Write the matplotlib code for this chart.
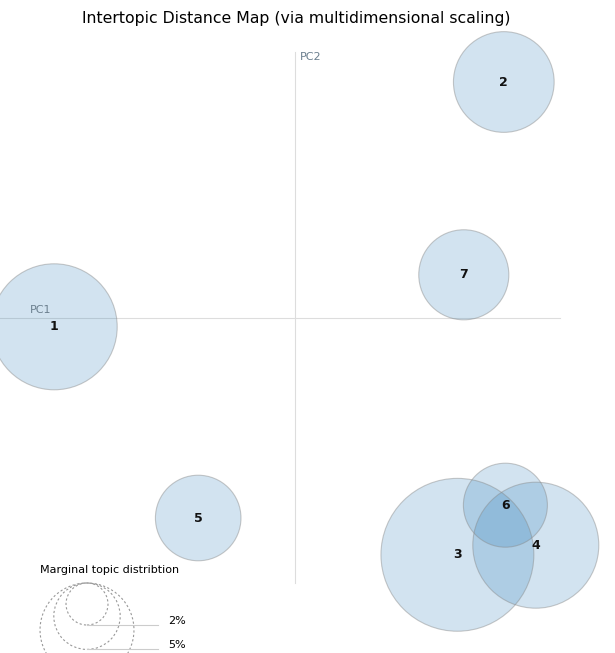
import matplotlib.pyplot as plt
from matplotlib.patches import Circle
import numpy as np

# topic positions on the two principal components and marginal size (%)
topics = ["1", "2", "3", "4", "5", "6", "7"]
pc1 = [-0.301, 0.261, 0.203, 0.301, -0.121, 0.263, 0.211]
pc2 = [-0.011, 0.295, -0.296, -0.284, -0.250, -0.234, 0.054]
freq = [18.0, 11.5, 26.5, 18.0, 8.3, 8.0, 9.2]
legend_sizes = [2, 5, 10]

SCALE = 800.0          # pixels per unit
R2 = 21.0 / SCALE      # radius of a 2% circle in data units


def radius(p):
    return R2 * np.sqrt(p / 2.0)


fig = plt.figure(figsize=(6.15, 6.53), dpi=100)
ax = fig.add_axes([0, 0, 1, 1])
ax.set_xlim(-295 / SCALE, 320 / SCALE)
ax.set_ylim(-335 / SCALE, 318 / SCALE)
ax.axis("off")

# axes lines
ax.plot([-295 / SCALE, 265 / SCALE], [0, 0], color="#dddddd", lw=0.8, zorder=0)
ax.plot([0, 0], [-265 / SCALE, 266 / SCALE], color="#dddddd", lw=0.8, zorder=0)
ax.text(-265 / SCALE, 8 / SCALE, "PC1", color="#6b7f8e", fontsize=8, ha="left", va="center")
ax.text(5 / SCALE, 261 / SCALE, "PC2", color="#6b7f8e", fontsize=8, ha="left", va="center")

# topic circles
for t, x, y, f in zip(topics, pc1, pc2, freq):
    ax.add_patch(Circle((x, y), radius(f), facecolor="#1f77b4", alpha=0.2,
                        edgecolor="none", zorder=1))
    ax.add_patch(Circle((x, y), radius(f), facecolor="none", edgecolor="#888888",
                        alpha=0.45, lw=0.8, zorder=2))
    ax.text(x, y, t, fontsize=9, fontweight="bold", ha="center", va="center",
            color="#111111", zorder=3)

# legend for marginal topic distribution
cx = -208 / SCALE
top = -265 / SCALE
ax.text(-255 / SCALE, -252 / SCALE, "Marginal topic distribtion", fontsize=8,
        ha="left", va="center")
for s in legend_sizes:
    r = radius(s)
    ax.add_patch(Circle((cx, top - r), r, facecolor="none", edgecolor="#999999",
                        ls=(0, (2, 2)), lw=0.8))
    ax.plot([cx, -137 / SCALE], [top - 2 * r, top - 2 * r], color="#cccccc", lw=0.8)
    ax.text(-127 / SCALE, top - 2 * r + 4 / SCALE, f"{s}%", fontsize=8,
            ha="left", va="center")

fig.text(0.481, 1 - 18 / 653, "Intertopic Distance Map (via multidimensional scaling)",
         fontsize=11.3, ha="center", va="center")

fig.savefig("out.png", dpi=100)
